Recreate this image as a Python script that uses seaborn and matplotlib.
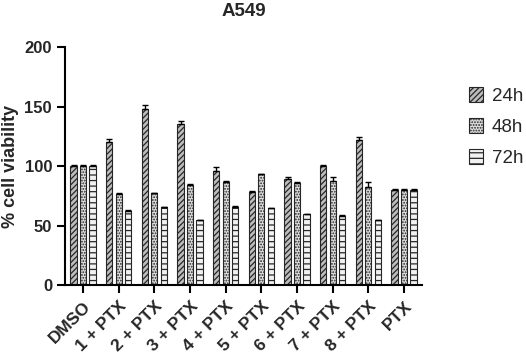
import pandas as pd
import matplotlib
matplotlib.use("Agg")
import matplotlib.pyplot as plt
import seaborn as sns
from matplotlib.patches import Patch

# === data ===
treatments = ["DMSO", "1 + PTX", "2 + PTX", "3 + PTX", "4 + PTX",
              "5 + PTX", "6 + PTX", "7 + PTX", "8 + PTX", "PTX"]
times = ["24h", "48h", "72h"]
v24 = [100, 120, 148, 135, 96, 78, 89, 100, 122, 80]
v48 = [100, 76.5, 77, 84, 87, 93, 85.5, 87.5, 82.5, 80]
v72 = [100, 62.5, 65.5, 54.5, 65.5, 64.5, 59.5, 58, 54.5, 80]
e24 = [0.5, 2.5, 3, 3, 3.5, 1, 1.5, 0.5, 2, 0.5]
e48 = [0.5, 1, 0.5, 1, 0.5, 0.5, 1, 3, 4.5, 0.5]
e72 = [0.5, 0.5, 0.5, 0, 1, 0.5, 0.5, 0.5, 0.5, 0.5]

df = pd.DataFrame({
    "treatment": treatments * 3,
    "time": [t for t in times for _ in treatments],
    "viability": v24 + v48 + v72,
    "err": e24 + e48 + e72,
})

# === style ===
sns.set_style("ticks")
plt.rcParams["font.family"] = ["Liberation Sans", "DejaVu Sans"]
plt.rcParams["hatch.linewidth"] = 0.9

hatches = {"24h": "//////", "48h": "......", "72h": "---"}
fills = {"24h": "#bdbdbd", "48h": "#dedede", "72h": "#f2f2f2"}

fig, ax = plt.subplots(figsize=(5.26, 3.56), dpi=100)
fig.subplots_adjust(left=0.124, right=0.802, bottom=0.199, top=0.868)

sns.barplot(data=df, x="treatment", y="viability", hue="time",
            order=treatments, hue_order=times, errorbar=None,
            width=0.8, gap=0.35, ax=ax, legend=False)

# hatch / colour each bar and add upper error caps
for patch, (_, row) in zip(ax.patches, df.iterrows()):
    t = row["time"]
    patch.set_facecolor(fills[t])
    patch.set_edgecolor("#262626")
    patch.set_linewidth(0.8)
    patch.set_hatch(hatches[t])
    cx = patch.get_x() + patch.get_width() / 2
    ax.errorbar(cx, row["viability"], yerr=[[0], [row["err"]]],
                fmt="none", ecolor="black", elinewidth=1, capsize=2.2,
                capthick=1)

ax.set_ylim(0, 200)
ax.set_xlim(-0.5, len(treatments) - 0.5)
ax.set_yticks([0, 50, 100, 150, 200])
ax.set_xlabel("")
ax.set_ylabel("% cell viability", fontsize=13, fontweight="bold", labelpad=4)
ax.set_title("A549", fontsize=13.5, fontweight="bold", pad=22)

for lbl in ax.get_yticklabels():
    lbl.set_fontweight("bold")
    lbl.set_fontsize(12)
ax.set_xticks(range(len(treatments)))
ax.set_xticklabels(treatments, rotation=45, ha="right",
                   rotation_mode="anchor", fontsize=12.5, fontweight="bold")

ax.tick_params(axis="both", width=1.5, length=6, color="black")
for s in ["left", "bottom"]:
    ax.spines[s].set_linewidth(1.5)
    ax.spines[s].set_color("black")
sns.despine(ax=ax)

handles = [Patch(facecolor=fills[t], edgecolor="#262626", hatch=hatches[t],
                 linewidth=0.8, label=t) for t in times]
ax.legend(handles=handles, loc="center left", bbox_to_anchor=(1.085, 0.664),
          frameon=False, fontsize=13.5, handlelength=0.75, handleheight=0.85,
          labelspacing=0.7, handletextpad=0.45, borderpad=0.4)

fig.savefig("out.png", dpi=100)
